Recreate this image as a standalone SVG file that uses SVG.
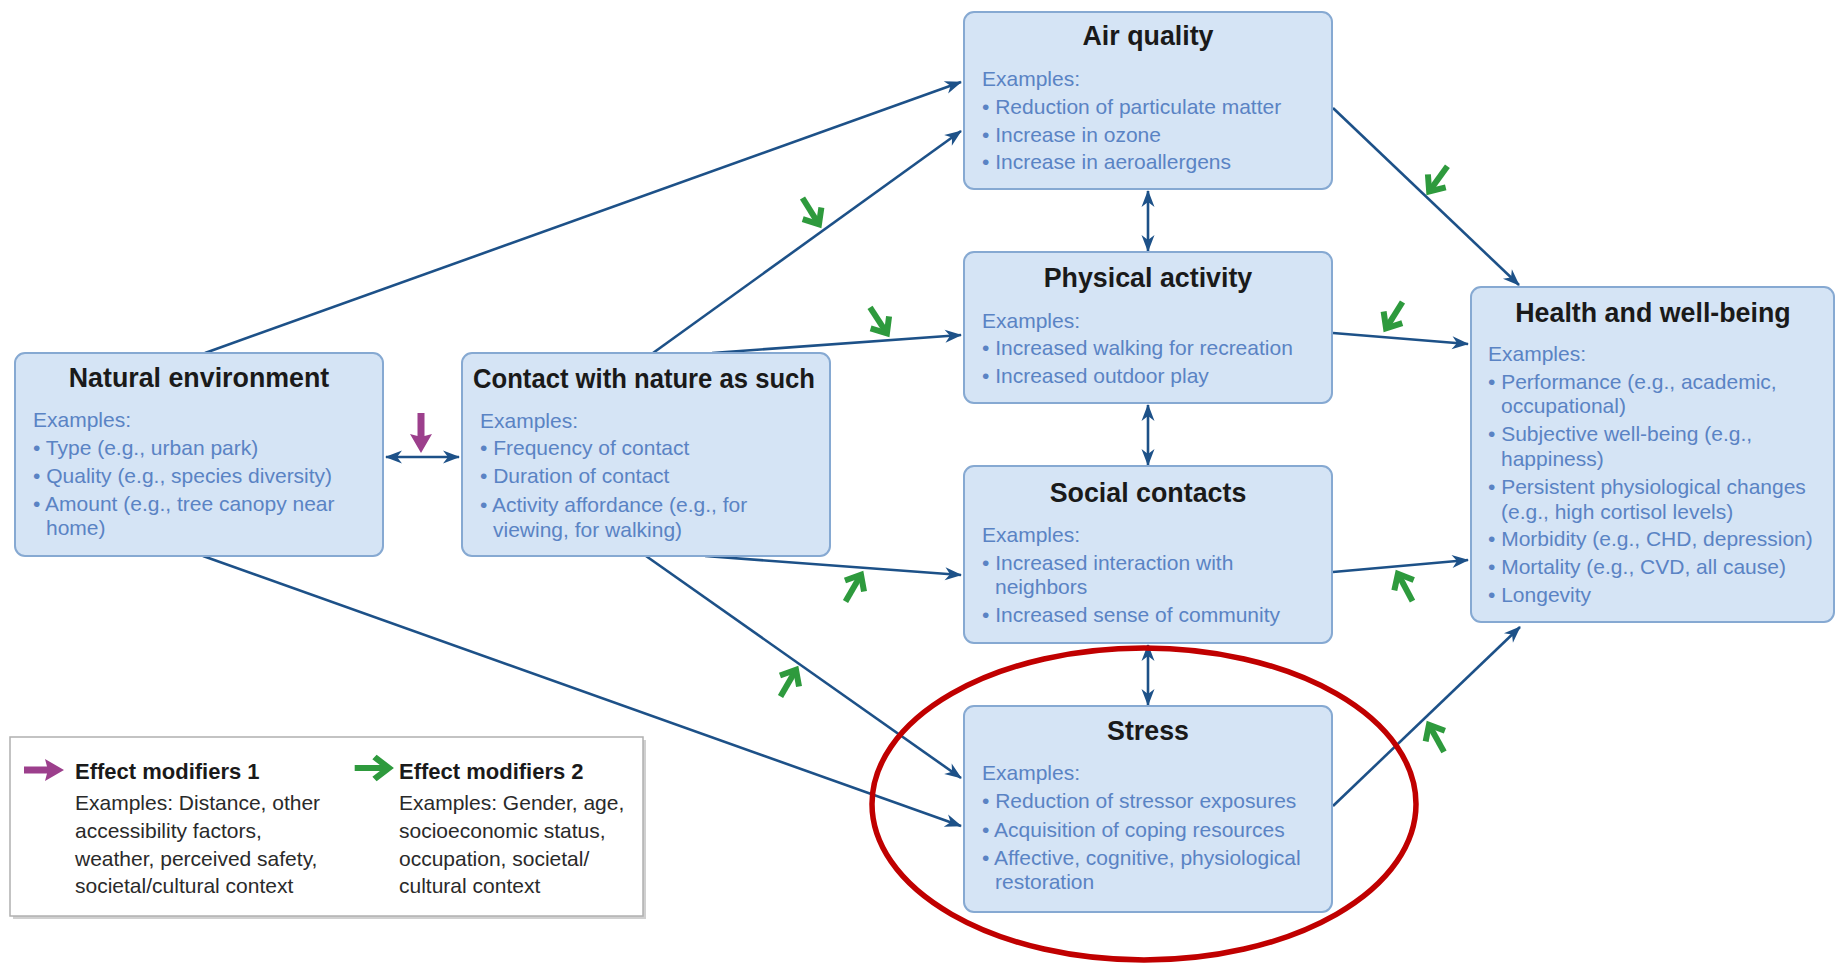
<svg xmlns="http://www.w3.org/2000/svg" xmlns:xlink="http://www.w3.org/1999/xlink" width="1836" height="963" viewBox="0 0 1836 963">
<style>
.box{fill:#d5e4f5;stroke:#86a9d2;stroke-width:2}
.t{font-family:"Liberation Sans",Arial,sans-serif;font-weight:bold;font-size:26.8px;fill:#1a1a1a;text-anchor:middle}
.b{font-family:"Liberation Sans",Arial,sans-serif;font-size:21px;fill:#5a83c4}
.lt{font-family:"Liberation Sans",Arial,sans-serif;font-weight:bold;font-size:22px;fill:#1a1a1a}
.lb{font-family:"Liberation Sans",Arial,sans-serif;font-size:21px;fill:#2a2a2a}
.conn{stroke:#1d5188;stroke-width:2.6;fill:none;marker-end:url(#ah)}
.dbl{marker-start:url(#ah)}
.gm{stroke:#2e9a3d;stroke-width:6;fill:none}
</style>
<defs>
<marker id="ah" viewBox="-18 -8 20 16" refX="0" refY="0" markerWidth="20" markerHeight="16" markerUnits="userSpaceOnUse" orient="auto-start-reverse">
<path d="M1,0 L-16,-6.5 L-11,0 L-16,6.5 Z" fill="#1d5188"/>
</marker>
<g id="ga"><path class="gm" d="M-33,0 L-4,0"/><path class="gm" d="M-15,-11 L-2,0 L-15,11"/></g>
<path id="pa" d="M0,0 L-19,-11 L-17,-3.5 L-40,-3.5 L-40,3.5 L-17,3.5 L-19,11 Z" fill="#9c3f8c"/>
</defs>

<g id="connectors">
<line class="conn" x1="205" y1="353" x2="961" y2="82"/>
<line class="conn" x1="203" y1="556" x2="961" y2="826"/>
<line class="conn dbl" x1="386" y1="457" x2="459" y2="457"/>
<line class="conn" x1="653" y1="353" x2="961" y2="131"/>
<line class="conn" x1="712" y1="353" x2="961" y2="335"/>
<line class="conn" x1="705" y1="556" x2="961" y2="575"/>
<line class="conn" x1="646" y1="556" x2="961" y2="778"/>
<line class="conn" x1="1333" y1="108" x2="1519" y2="285"/>
<line class="conn" x1="1333" y1="333" x2="1468" y2="344"/>
<line class="conn" x1="1333" y1="572" x2="1468" y2="560"/>
<line class="conn" x1="1333" y1="806" x2="1520" y2="627"/>
<line class="conn dbl" x1="1148" y1="191" x2="1148" y2="251"/>
<line class="conn dbl" x1="1148" y1="405" x2="1148" y2="465"/>
<line class="conn dbl" x1="1148" y1="645" x2="1148" y2="705"/>
</g>

<g id="modifiers">
<use xlink:href="#pa" transform="translate(421,453) rotate(90)"/>
<use xlink:href="#ga" transform="translate(820,226) rotate(58)"/>
<use xlink:href="#ga" transform="translate(888,335) rotate(57)"/>
<use xlink:href="#ga" transform="translate(1428,193) rotate(126)"/>
<use xlink:href="#ga" transform="translate(1385,330) rotate(122)"/>
<use xlink:href="#ga" transform="translate(862,573) rotate(-60)"/>
<use xlink:href="#ga" transform="translate(797,668) rotate(-60)"/>
<use xlink:href="#ga" transform="translate(1397,572) rotate(-118)"/>
<use xlink:href="#ga" transform="translate(1428,723) rotate(-119)"/>
</g>

<g id="natural-environment">
<rect class="box" x="15" y="353" width="368" height="203" rx="10"/>
<text class="t" x="199" y="387">Natural environment</text>
<text class="b" x="33" y="427">Examples:</text>
<text class="b" x="33" y="455">• Type (e.g., urban park)</text>
<text class="b" x="33" y="483">• Quality (e.g., species diversity)</text>
<text class="b" x="33" y="511">• Amount (e.g., tree canopy near</text>
<text class="b" x="46" y="535">home)</text>
</g>

<g id="contact-with-nature">
<rect class="box" x="462" y="353" width="368" height="203" rx="10"/>
<text class="t" x="644" y="388" textLength="342" lengthAdjust="spacingAndGlyphs">Contact with nature as such</text>
<text class="b" x="480" y="428">Examples:</text>
<text class="b" x="480" y="455">• Frequency of contact</text>
<text class="b" x="480" y="483">• Duration of contact</text>
<text class="b" x="480" y="512">• Activity affordance (e.g., for</text>
<text class="b" x="493" y="537">viewing, for walking)</text>
</g>

<g id="air-quality">
<rect class="box" x="964" y="12" width="368" height="177" rx="10"/>
<text class="t" x="1148" y="45">Air quality</text>
<text class="b" x="982" y="86">Examples:</text>
<text class="b" x="982" y="114">• Reduction of particulate matter</text>
<text class="b" x="982" y="142">• Increase in ozone</text>
<text class="b" x="982" y="169">• Increase in aeroallergens</text>
</g>

<g id="physical-activity">
<rect class="box" x="964" y="252" width="368" height="151" rx="10"/>
<text class="t" x="1148" y="287">Physical activity</text>
<text class="b" x="982" y="328">Examples:</text>
<text class="b" x="982" y="355">• Increased walking for recreation</text>
<text class="b" x="982" y="383">• Increased outdoor play</text>
</g>

<g id="social-contacts">
<rect class="box" x="964" y="466" width="368" height="177" rx="10"/>
<text class="t" x="1148" y="502">Social contacts</text>
<text class="b" x="982" y="542">Examples:</text>
<text class="b" x="982" y="570">• Increased interaction with</text>
<text class="b" x="995" y="594">neighbors</text>
<text class="b" x="982" y="622">• Increased sense of community</text>
</g>

<g id="stress">
<rect class="box" x="964" y="706" width="368" height="206" rx="10"/>
<text class="t" x="1148" y="740">Stress</text>
<text class="b" x="982" y="780">Examples:</text>
<text class="b" x="982" y="808">• Reduction of stressor exposures</text>
<text class="b" x="982" y="837">• Acquisition of coping resources</text>
<text class="b" x="982" y="865">• Affective, cognitive, physiological</text>
<text class="b" x="995" y="889">restoration</text>
</g>

<g id="health-and-well-being">
<rect class="box" x="1471" y="287" width="363" height="335" rx="10"/>
<text class="t" x="1653" y="322">Health and well-being</text>
<text class="b" x="1488" y="361">Examples:</text>
<text class="b" x="1488" y="389">• Performance (e.g., academic,</text>
<text class="b" x="1501" y="413">occupational)</text>
<text class="b" x="1488" y="441">• Subjective well-being (e.g.,</text>
<text class="b" x="1501" y="466">happiness)</text>
<text class="b" x="1488" y="494">• Persistent physiological changes</text>
<text class="b" x="1501" y="519">(e.g., high cortisol levels)</text>
<text class="b" x="1488" y="546">• Morbidity (e.g., CHD, depression)</text>
<text class="b" x="1488" y="574">• Mortality (e.g., CVD, all cause)</text>
<text class="b" x="1488" y="602">• Longevity</text>
</g>

<g id="legend">
<rect x="13" y="740" width="633" height="179" fill="#d0d0d0"/>
<rect x="10" y="737" width="633" height="179" fill="#ffffff" stroke="#b0b0b0" stroke-width="1.5"/>
<use xlink:href="#pa" transform="translate(64,770)"/>
<text class="lt" x="75" y="779">Effect modifiers 1</text>
<text class="lb" x="75" y="810">Examples: Distance, other</text>
<text class="lb" x="75" y="838">accessibility factors,</text>
<text class="lb" x="75" y="866">weather, perceived safety,</text>
<text class="lb" x="75" y="893">societal/cultural context</text>
<use xlink:href="#ga" transform="translate(391,768) scale(1.1,1)"/>
<text class="lt" x="399" y="779">Effect modifiers 2</text>
<text class="lb" x="399" y="810">Examples: Gender, age,</text>
<text class="lb" x="399" y="838">socioeconomic status,</text>
<text class="lb" x="399" y="866">occupation, societal/</text>
<text class="lb" x="399" y="893">cultural context</text>
</g>

<g id="highlight">
<ellipse cx="1144" cy="804" rx="272" ry="156" fill="none" stroke="#c00000" stroke-width="5.5"/>
</g>
</svg>
